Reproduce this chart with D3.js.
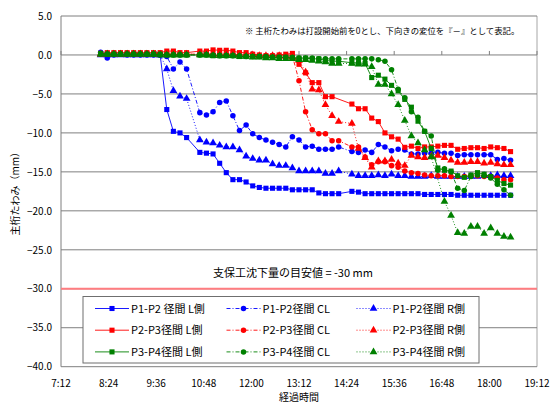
<!DOCTYPE html>
<html>
<head>
<meta charset="utf-8">
<script src="https://cdn.jsdelivr.net/npm/d3@7"></script>
<style>
body { margin: 0; background: #fff; }
text { font-family: "Noto Sans CJK JP", "Noto Sans", sans-serif; fill: #000; }
</style>
</head>
<body>
<div id="chart"></div>
<script>
// measurement times (10:32 and 14:22 not measured)
const times = [
    "8:12", "8:22", "8:32", "8:42", "8:52", "9:02", "9:12", "9:22", "9:32", "9:42", "9:52", "10:02", "10:12", "10:22",
    "10:42", "10:52", "11:02", "11:12", "11:22", "11:32", "11:42", "11:52", "12:02", "12:12", "12:22", "12:32", "12:42", "12:52",
    "13:02", "13:12", "13:22", "13:32", "13:42", "13:52", "14:02", "14:12",
    "14:32", "14:42", "14:52", "15:02", "15:12", "15:22", "15:32", "15:42", "15:52", "16:02", "16:12", "16:22", "16:32",
    "16:42", "16:52", "17:02", "17:12", "17:22", "17:32", "17:42", "17:52", "18:02", "18:12", "18:22", "18:32"
];

// deflection (mm) per series, same order as times
const p12L = [
    0.1, 0.1, 0.1, 0.1, 0.1, 0.1, 0.1, 0.1, 0.1, 0.0, -7.0, -9.8, -10.0, -10.6,
    -12.5, -12.6, -12.7, -13.9, -15.1, -16.0, -16.0, -16.3, -16.8, -17.0, -17.1, -17.1, -17.1, -17.1,
    -17.3, -17.3, -17.3, -17.3, -17.7, -17.8, -17.8, -17.8,
    -17.5, -17.6, -17.8, -17.8, -17.8, -17.8, -17.8, -17.8, -17.8, -17.8, -17.8, -17.9, -17.9,
    -17.9, -17.9, -17.9, -18.0, -18.0, -18.0, -18.0, -18.0, -18.0, -18.0, -18.0, -18.0
];
const p12C = [
    0.35, -0.4, 0.0, 0.1, 0.0, 0.0, 0.0, 0.0, 0.0, 0.0, -0.2, -1.8, -0.9, -1.8,
    -7.4, -7.7, -7.3, -6.1, -5.9, -7.8, -9.7, -9.0, -10.1, -10.6, -10.9, -11.2, -11.5, -11.8,
    -10.5, -10.9, -11.8, -11.7, -12.1, -12.1, -12.1, -11.8,
    -12.4, -12.5, -12.2, -12.5, -11.5, -11.8, -12.3, -12.1, -12.2, -12.7, -12.7, -12.6, -12.6,
    -12.5, -12.6, -12.6, -12.9, -12.8, -12.8, -12.8, -12.8, -12.8, -13.4, -13.3, -13.5
];
const p12R = [
    0.0, 0.0, 0.0, 0.0, 0.0, 0.0, 0.0, 0.0, 0.0, 0.0, -1.8, -4.6, -5.3, -5.6,
    -10.9, -11.2, -11.3, -11.6, -11.8, -11.8, -12.2, -13.0, -13.3, -13.5, -13.5, -14.0, -14.2, -14.2,
    -14.5, -14.9, -14.9, -14.9, -14.9, -15.2, -15.2, -14.9,
    -15.3, -15.5, -15.5, -15.5, -15.4, -15.5, -15.3, -15.5, -15.5, -15.6, -15.6, -15.6, -15.5,
    -15.6, -15.6, -15.6, -15.6, -15.6, -15.6, -15.6, -15.5, -15.5, -15.4, -15.5, -15.5
];
const p23L = [
    0.2, 0.3, 0.3, 0.3, 0.3, 0.3, 0.3, 0.3, 0.3, 0.3, 0.5, 0.5, 0.3, 0.3,
    0.5, 0.5, 0.65, 0.6, 0.6, 0.5, 0.3, 0.3, 0.1, 0.0, -0.1, -0.1, 0.0, 0.1,
    0.2, -1.2, -2.3, -3.55, -3.55, -5.35, -5.35, null,
    -6.3, -6.9, -6.9, -8.1, -8.55, -10.0, -10.5, -10.8, -11.85, -11.7, -12.0, -11.8, -11.8,
    -11.7, -11.6, -11.6, -12.1, -12.0, -11.9, -11.9, -12.0, -11.8, -11.9, -12.0, -12.4
];
const p23C = [
    0.1, 0.1, 0.2, 0.2, 0.2, 0.2, 0.2, 0.2, 0.2, 0.2, 0.1, 0.1, 0.1, 0.1,
    0.1, 0.1, 0.1, 0.1, 0.1, 0.1, 0.0, 0.0, 0.0, -0.1, -0.1, -0.1, -0.1, -0.1,
    -0.1, -3.3, -7.3, -9.6, -10.1, -10.1, -11.0, -11.0,
    -11.8, -11.8, -13.1, -14.1, -13.7, -13.7, -14.2, -14.4, -14.9, -15.1, -15.2, -15.4, -15.5,
    -15.5, -15.5, -15.6, -15.6, -15.6, -15.5, -15.5, -15.6, -15.6, -15.8, -16.0, -16.0
];
const p23R = [
    0.1, 0.1, 0.1, 0.1, 0.1, 0.1, 0.1, 0.1, 0.1, 0.1, 0.1, 0.1, 0.1, 0.1,
    0.1, 0.1, 0.1, 0.1, 0.1, 0.0, 0.0, 0.0, 0.0, -0.1, -0.1, -0.1, -0.1, -0.2,
    -0.3, -0.7, -2.2, -4.4, -4.5, -6.4, -7.8, -8.55,
    -8.8, -12.0, -13.2, -14.4, -13.6, -13.6, -13.4, -13.9, -14.2, -12.9, -13.1, -13.2, -13.0,
    -12.9, -13.2, -13.5, -13.8, -13.8, -13.7, -13.7, -13.9, -13.8, -14.0, -14.1, -14.1
];
const p34L = [
    0.2, 0.1, 0.1, 0.1, 0.1, 0.1, 0.1, 0.1, 0.1, 0.1, 0.0, 0.0, 0.0, 0.0,
    0.0, 0.0, -0.1, -0.1, -0.1, -0.1, -0.2, -0.2, -0.2, -0.2, -0.3, -0.3, -0.3, -0.3,
    -0.4, -0.4, -0.4, -0.5, -0.5, -0.7, -0.8, -0.8,
    -1.0, -1.0, -1.1, -2.9, -2.6, -3.1, -3.9, -4.6, -5.7, -6.7, -8.5, -9.8, -12.0,
    -14.5, -14.8, -14.9, -15.5, -15.7, -15.4, -15.1, -15.3, -15.6, -16.1, -16.5, -16.7
];
const p34C = [
    0.1, 0.1, 0.1, 0.1, 0.1, 0.1, 0.1, 0.1, 0.1, 0.0, 0.0, 0.0, 0.0, 0.0,
    0.0, 0.0, 0.0, -0.1, -0.1, -0.1, -0.1, -0.2, -0.2, -0.2, -0.2, -0.3, -0.3, -0.3,
    -0.3, -0.4, -0.4, -0.4, -0.5, -0.5, -0.5, -0.5,
    -0.5, -0.5, -0.5, -0.5, -0.6, -0.8, -1.9, -4.4, -5.5, -7.3, -8.0, -9.8, -10.4,
    -14.8, -14.6, -15.0, -17.1, -17.4, -15.6, -15.4, -15.5, -15.8, -16.6, -17.3, -18.0
];
const p34R = [
    0.1, 0.1, 0.1, 0.1, 0.1, 0.1, 0.1, 0.1, 0.1, 0.0, 0.0, 0.0, 0.0, 0.0,
    0.0, 0.0, -0.1, -0.1, -0.1, -0.1, -0.2, -0.2, -0.3, -0.3, -0.4, -0.4, -0.5, -0.5,
    -0.5, -0.6, -0.6, -0.7, -0.8, -0.9, -1.1, -1.1,
    -1.1, -1.2, -1.2, -1.5, -3.8, -3.8, -5.0, -6.4, -8.4, -10.4, -11.3, -12.2, -13.1,
    null, -18.8, -20.6, -22.8, -22.9, -22.0, -22.0, -22.9, -22.2, -22.9, -23.3, -23.4
];

const seriesNames = [
    "P1-P2 径間 L側", "P1-P2径間 CL", "P1-P2径間 R側",
    "P2-P3径間 L側", "P2-P3径間 CL", "P2-P3径間 R側",
    "P3-P4径間 L側", "P3-P4径間 CL", "P3-P4径間 R側"
];
const seriesValues = [p12L, p12C, p12R, p23L, p23C, p23R, p34L, p34C, p34R];

const xTicks = ["7:12", "8:24", "9:36", "10:48", "12:00", "13:12", "14:24", "15:36", "16:48", "18:00", "19:12"];
const yTicks = [5, 0, -5, -10, -15, -20, -25, -30, -35, -40];
const limit = -30;

const toMin = s => { const p = s.split(":"); return +p[0] * 60 + +p[1]; };

const plotL = 61, plotR = 537, plotT = 16, plotB = 366.7;

const svg = d3.select("#chart")
    .append("svg")
    .attr("width", 550)
    .attr("height", 403);

svg.append("rect").attr("width", 550).attr("height", 403).attr("fill", "#fff");

const x = d3.scaleLinear()
    .domain([toMin(xTicks[0]), toMin(xTicks[xTicks.length - 1])])
    .range([plotL, plotR]);

const y = d3.scaleLinear()
    .domain([-40, 5])
    .range([plotB, plotT]);

// plot frame + gridlines
svg.append("line")
    .attr("x1", plotR).attr("x2", plotR)
    .attr("y1", plotT).attr("y2", plotB)
    .attr("stroke", "#a6a6a6");

svg.selectAll(".grid")
    .data(yTicks)
    .enter()
    .append("line")
    .attr("x1", plotL).attr("x2", plotR)
    .attr("y1", d => y(d)).attr("y2", d => y(d))
    .attr("stroke", "#7f7f7f")
    .attr("stroke-width", 1);

svg.append("line")
    .attr("x1", plotL).attr("x2", plotL)
    .attr("y1", plotT).attr("y2", plotB)
    .attr("stroke", "#7f7f7f");

// y axis labels
const yAxis = svg.append("g")
    .attr("transform", `translate(${plotL},0)`)
    .call(d3.axisLeft(y).tickValues(yTicks).tickSize(0).tickPadding(9).tickFormat(d3.format(".1f")));
yAxis.select(".domain").remove();
yAxis.selectAll("text").style("font-size", "10px").style("font-family", '"Noto Sans CJK JP", sans-serif');

// x axis sits on 0 with small ticks, labels at the bottom
svg.selectAll(".xtick")
    .data(xTicks)
    .enter()
    .append("line")
    .attr("x1", d => x(toMin(d))).attr("x2", d => x(toMin(d)))
    .attr("y1", y(0)).attr("y2", y(0) - 4)
    .attr("stroke", "#7f7f7f");

svg.selectAll(".xlabel")
    .data(xTicks)
    .enter()
    .append("text")
    .attr("x", d => x(toMin(d)))
    .attr("y", 387)
    .attr("text-anchor", "middle")
    .style("font-size", "10px")
    .text(d => d);

// limit line
svg.append("line")
    .attr("x1", plotL).attr("x2", plotR)
    .attr("y1", y(limit)).attr("y2", y(limit))
    .attr("stroke", "#ff7c80")
    .attr("stroke-width", 2);

svg.append("text")
    .attr("x", 213)
    .attr("y", y(limit) - 12)
    .style("font-size", "11px")
    .text("支保工沈下量の目安値 = " + limit + " mm");

svg.append("text")
    .attr("x", 245)
    .attr("y", 34)
    .style("font-size", "8.4px")
    .text("※ 主桁たわみは打設開始前を0とし、下向きの変位を『－』として表記。");

// titles
svg.append("text")
    .attr("transform", `translate(19,${(plotT + plotB) / 2}) rotate(-90)`)
    .attr("text-anchor", "middle")
    .style("font-size", "10px")
    .text("主桁たわみ（mm）");

svg.append("text")
    .attr("x", (plotL + plotR) / 2)
    .attr("y", 401)
    .attr("text-anchor", "middle")
    .style("font-size", "10px")
    .text("経過時間");

// series
const colors = ["#0000ff", "#ff0000", "#008000"];
const symbols = [d3.symbolSquare, d3.symbolCircle, d3.symbolTriangle];
const symbolSize = [26, 24, 26];
const dashes = [null, "4,2,1,2", "1,2"];

const line = d3.line()
    .x(d => x(toMin(d.t)))
    .y(d => y(d.v));

seriesValues.forEach((vals, s) => {
    const span = Math.floor(s / 3), type = s % 3;
    const pts = times.map((t, i) => ({ t: t, v: vals[i] })).filter(d => d.v !== null);

    svg.append("path")
        .datum(pts)
        .attr("d", line)
        .attr("fill", "none")
        .attr("stroke", colors[span])
        .attr("stroke-width", 0.9)
        .attr("stroke-dasharray", dashes[type]);

    svg.selectAll(".m" + s)
        .data(pts)
        .enter()
        .append("path")
        .attr("transform", d => `translate(${x(toMin(d.t))},${y(d.v)})`)
        .attr("d", d3.symbol().type(symbols[type]).size(symbolSize[type]))
        .attr("fill", colors[span]);
});

// legend
const legend = svg.append("g");
legend.append("rect")
    .attr("x", 83).attr("y", 296.5)
    .attr("width", 396).attr("height", 66.5)
    .attr("fill", "#fff")
    .attr("stroke", "#6f6f6f");

const colX = [95, 226.5, 356.5];
seriesNames.forEach((name, s) => {
    const span = Math.floor(s / 3), type = s % 3;
    const lx = colX[type], ly = 308.5 + span * 21.7;
    legend.append("line")
        .attr("x1", lx).attr("x2", lx + 34)
        .attr("y1", ly).attr("y2", ly)
        .attr("stroke", colors[span])
        .attr("stroke-width", 0.9)
        .attr("stroke-dasharray", dashes[type]);
    legend.append("path")
        .attr("transform", `translate(${lx + 17},${ly})`)
        .attr("d", d3.symbol().type(symbols[type]).size(symbolSize[type]))
        .attr("fill", colors[span]);
    legend.append("text")
        .attr("x", lx + 36)
        .attr("y", ly + 4)
        .style("font-size", "11px")
        .text(name);
});
</script>
</body>
</html>
